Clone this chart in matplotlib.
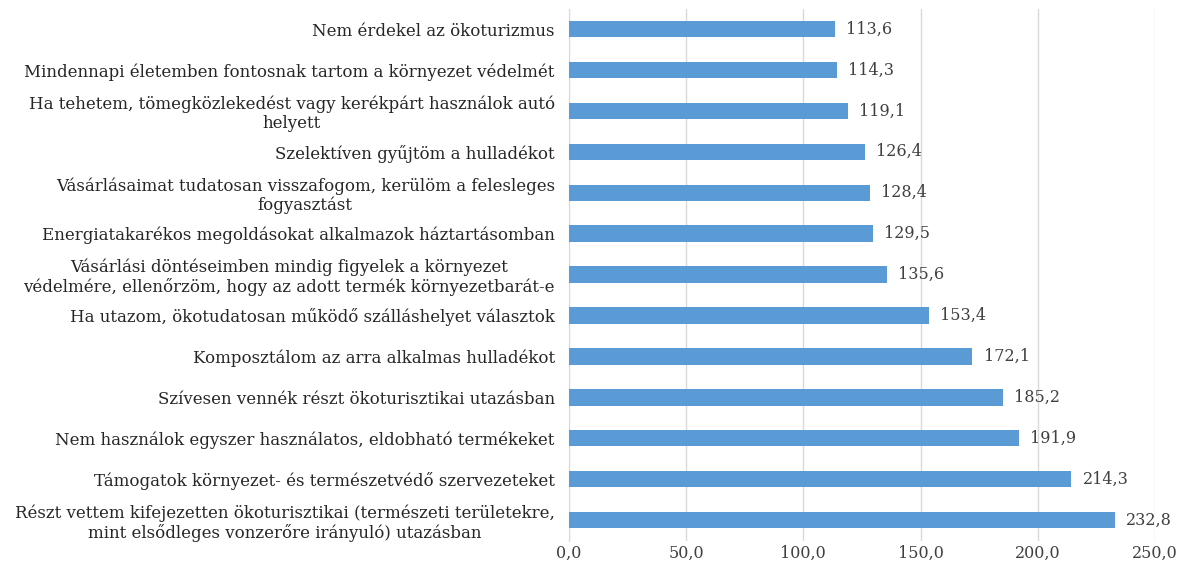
# Ökotudatos viselkedés - súlyozott pontszámok
import matplotlib.pyplot as plt

labels = [
    'Nem érdekel az ökoturizmus',
    'Mindennapi életemben fontosnak tartom a környezet védelmét',
    'Ha tehetem, tömegközlekedést vagy kerékpárt használok autó\nhelyett',
    'Szelektíven gyűjtöm a hulladékot',
    'Vásárlásaimat tudatosan visszafogom, kerülöm a felesleges\nfogyasztást',
    'Energiatakarékos megoldásokat alkalmazok háztartásomban',
    'Vásárlási döntéseimben mindig figyelek a környezet\nvédelmére, ellenőrzöm, hogy az adott termék környezetbarát-e',
    'Ha utazom, ökotudatosan működő szálláshelyet választok',
    'Komposztálom az arra alkalmas hulladékot',
    'Szívesen vennék részt ökoturisztikai utazásban',
    'Nem használok egyszer használatos, eldobható termékeket',
    'Támogatok környezet- és természetvédő szervezeteket',
    'Részt vettem kifejezetten ökoturisztikai (természeti területekre,\nmint elsődleges vonzerőre irányuló) utazásban',
]
values = [113.6, 114.3, 119.1, 126.4, 128.4, 129.5, 135.6,
          153.4, 172.1, 185.2, 191.9, 214.3, 232.8]
xticks = [0, 50, 100, 150, 200, 250]

plt.rcParams['font.family'] = ['DejaVu Serif', 'Liberation Serif']

fig = plt.figure(figsize=(11.8, 5.72), dpi=100)
ax = fig.add_axes([0.482, 0.055, 0.497, 0.93])

pos = list(range(len(values)))
ax.barh(pos, values, height=0.4, color='#5B9BD5', zorder=3)
for p, v in zip(pos, values):
    ax.annotate(f'{v:.1f}'.replace('.', ','), (v, p), xytext=(8, 0),
                textcoords='offset points', va='center', ha='left',
                fontsize=11.5, color='#404040')

ax.set_ylim(len(values) - 0.5, -0.5)
ax.set_xlim(0, 250)
ax.set_yticks(pos)
ax.set_yticklabels(labels, fontsize=12, multialignment='center',
                   color='#262626', linespacing=1.12)
ax.set_xticks(xticks)
ax.set_xticklabels([f'{t:.1f}'.replace('.', ',') for t in xticks],
                   fontsize=11.5, color='#404040')
ax.tick_params(axis='both', length=0)
ax.tick_params(axis='y', pad=10)
ax.tick_params(axis='x', pad=3)

ax.grid(axis='x', color='#D9D9D9', linewidth=1, zorder=0)
for s in ['top', 'right', 'bottom']:
    ax.spines[s].set_visible(False)
ax.spines['left'].set_color('#D9D9D9')

plt.savefig('out.png', dpi=100)
